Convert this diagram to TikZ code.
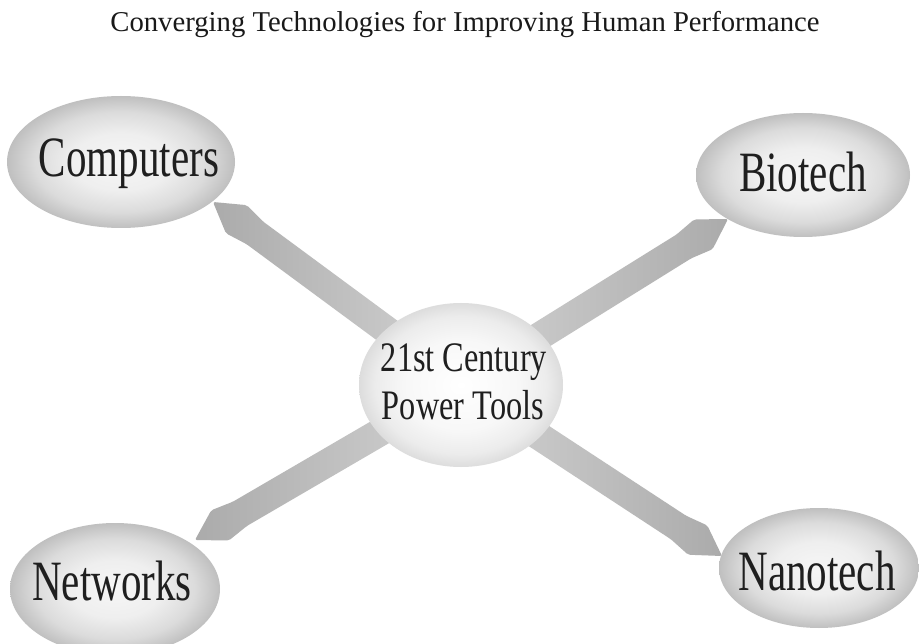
\documentclass[tikz,border=0pt]{standalone}
\usepackage{fontspec}
\setmainfont{Liberation Serif}
\newfontfamily\outerfont[FakeStretch=0.72]{Liberation Serif}
\newfontfamily\hubfont[FakeStretch=0.77]{Liberation Serif}
\usetikzlibrary{shapes.geometric,calc,backgrounds}

% soft bubble fills: light middle, darker rim
\pgfdeclareradialshading{bubbleshade}{\pgfpoint{0bp}{0bp}}{%
  color(0bp)=(gray!7); color(11bp)=(gray!13); color(19bp)=(gray!28);
  color(25bp)=(gray!50); color(50bp)=(gray!50)}
\pgfdeclareradialshading{hubshade}{\pgfpoint{0bp}{0bp}}{%
  color(0bp)=(white); color(14bp)=(gray!6); color(21bp)=(gray!15);
  color(25bp)=(gray!27); color(50bp)=(gray!27)}

% Broad shaded band with a blunt pointed head, from #1 to #2;
% #3 is the colour at the left of the band, #4 at the right.
\newcommand\bandarrow[4]{%
  \shade[band, left color=#3, right color=#4]
    ($(#1)!14pt!90:(#2)$)
    -- ($(#2)!52pt!(#1)!14pt!-90:(#1)$)
    -- ($(#2)!29pt!(#1)!17.5pt!-90:(#1)$)
    -- (#2)
    -- ($(#2)!29pt!(#1)!17.5pt!90:(#1)$)
    -- ($(#2)!52pt!(#1)!14pt!90:(#1)$)
    -- ($(#1)!14pt!-90:(#2)$)
    -- cycle;}

\begin{document}
\begin{tikzpicture}[x=1pt,y=-1pt,
  bubble/.style={ellipse, inner sep=0pt, draw=none, shading=bubbleshade},
  hubbubble/.style={ellipse, inner sep=0pt, draw=none, shading=hubshade},
  bubbletext/.style={anchor=base, inner sep=0pt, text=black!88,
    font=\outerfont\fontsize{57}{60}\selectfont},
  hubtext/.style={anchor=base, inner sep=0pt, text=black!88,
    font=\hubfont\fontsize{42}{48}\selectfont},
  titletext/.style={anchor=base, inner sep=0pt, text=black!90,
    font=\fontsize{28.7}{30}\selectfont},
  band/.style={draw=none, rounded corners=2pt}
]
\useasboundingbox (0,0) rectangle (919,644);

% title
\node[titletext] (title) at (465,32) {Converging Technologies for Improving Human Performance};

% central hub
\node[hubbubble, minimum width=204pt, minimum height=164pt] (hub) at (461,385) {};
\node[hubtext] (hubA) at (464,372) {21st Century};
\node[hubtext] (hubB) at (463,420) {Power Tools};

% outer technologies
\node[bubble, minimum width=228pt, minimum height=132pt] (comp) at (121,162) {};
\node[bubbletext] (compT) at (129,177) {Computers};

\node[bubble, minimum width=214pt, minimum height=124pt] (bio) at (803,175) {};
\node[bubbletext] (bioT) at (803,192) {Biotech};

\node[bubble, minimum width=210pt, minimum height=132pt] (net) at (115,589) {};
\node[bubbletext] (netT) at (112,600) {Networks};

\node[bubble, minimum width=200pt, minimum height=120pt] (nano) at (819,568) {};
\node[bubbletext] (nanoT) at (817,590) {Nanotech};

% arrow tips, just short of each outer bubble
\coordinate (tipComp) at (213,202);
\coordinate (tipBio)  at (728,219);
\coordinate (tipNet)  at (195,540);
\coordinate (tipNano) at (722,556);

\begin{scope}[on background layer]
  \fill[white] (0,0) rectangle (919,644);
  \bandarrow{hub.center}{tipComp}{gray!66}{gray!34}
  \bandarrow{hub.center}{tipBio}{gray!34}{gray!66}
  \bandarrow{hub.center}{tipNet}{gray!66}{gray!34}
  \bandarrow{hub.center}{tipNano}{gray!34}{gray!66}
\end{scope}
\end{tikzpicture}
\end{document}
